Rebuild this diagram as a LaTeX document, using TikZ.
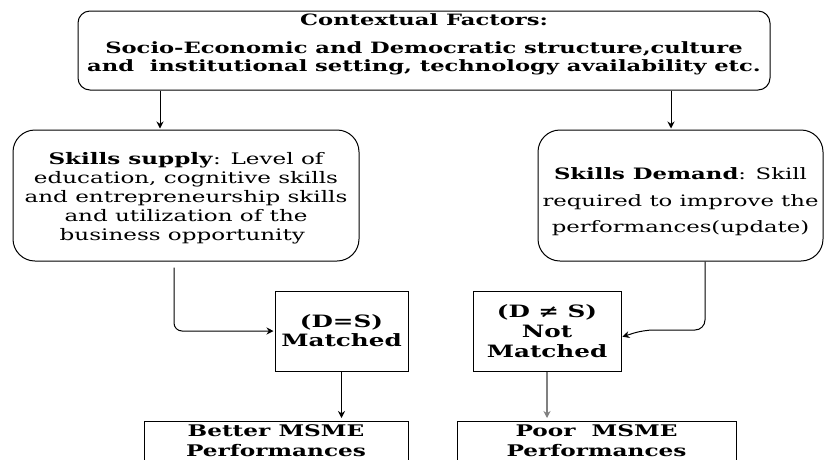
\documentclass[tikz,border=0pt]{standalone}
\usepackage{fontspec}
\setmainfont[FakeStretch=1.45]{DejaVu Serif}
\usetikzlibrary{arrows.meta}
\tikzset{
  roundbox/.style={draw, line width=1pt, rounded corners=#1, align=center, inner sep=0pt},
  sqbox/.style={draw, line width=1pt, rectangle, align=center, inner sep=0pt},
  arr/.style={line width=1pt, -{Stealth[length=7pt,width=7pt]}, shorten >=1pt},
}
\begin{document}
\begin{tikzpicture}[x=1pt,y=-1pt]
\useasboundingbox (0,0) rectangle (825,459);
\clip (0,0) rectangle (825,459);

\node [roundbox=12pt, minimum width=692pt, minimum height=79pt,
  font=\bfseries\fontsize{15.6}{18}\selectfont] (ctx) at (424,50.5)
  {Contextual Factors:\\[10pt]
   Socio-Economic and Democratic structure,culture\\
   and\ \ institutional setting, technology availability etc.\\[-3pt]};

\node [roundbox=22pt, minimum width=346pt, minimum height=131pt,
  font=\fontsize{15.9}{19}\selectfont] (supply) at (186,195.5)
  {\mbox{}\\[-1pt]\textbf{Skills supply}: Level of\\ education, cognitive skills\\
   and entrepreneurship skills\\ and utilization of the\\ business opportunity\ \ };
\node [roundbox=22pt, minimum width=285pt, minimum height=131pt,
  font=\fontsize{15.7}{26.5}\selectfont] (demand) at (680.5,195.5)
  {\mbox{}\\[-1.5pt]\textbf{Skills Demand}: Skill\\ required to improve the\\ performances(update)};

\node [sqbox, minimum width=133pt, minimum height=80pt,
  font=\bfseries\fontsize{17}{19}\selectfont] (match) at (341.5,331)
  {(D=S)\\ Matched};
\node [sqbox, minimum width=148pt, minimum height=80pt,
  font=\bfseries\fontsize{17}{20}\selectfont] (nomatch) at (547,331)
  {(D ≠ S)\\ Not\\ Matched};

\node [sqbox, minimum width=264pt, inner ysep=3pt, anchor=north,
  font=\bfseries\fontsize{16}{20}\selectfont] (better) at (276,421)
  {Better MSME\\ Performances\\ \strut};
\node [sqbox, minimum width=279pt, inner ysep=3pt, anchor=north,
  font=\bfseries\fontsize{16}{20}\selectfont] (poor) at (596.5,421)
  {Poor\ \ MSME\\ Performances\\ \strut};

% connectors
\draw [arr] ([xshift=-26pt]supply.north |- ctx.south) -- ([xshift=-26pt]supply.north);
\draw [arr] ([xshift=-9.5pt]demand.north |- ctx.south) -- ([xshift=-9.5pt]demand.north);
\draw [arr, rounded corners=8pt] ([xshift=-12pt,yshift=-6pt]supply.south) |- (match.west);
\draw [arr, rounded corners=10pt] ([xshift=24.5pt]demand.south)
  |- ([xshift=22pt,yshift=1pt]nomatch.east) -- ([yshift=-6pt]nomatch.east);
\draw [arr, shorten >=3pt] (match.south) -- (match.south |- better.north);
\draw [arr, shorten >=3pt, gray, line width=1.5pt] (nomatch.south) -- (nomatch.south |- poor.north);
\end{tikzpicture}
\end{document}
